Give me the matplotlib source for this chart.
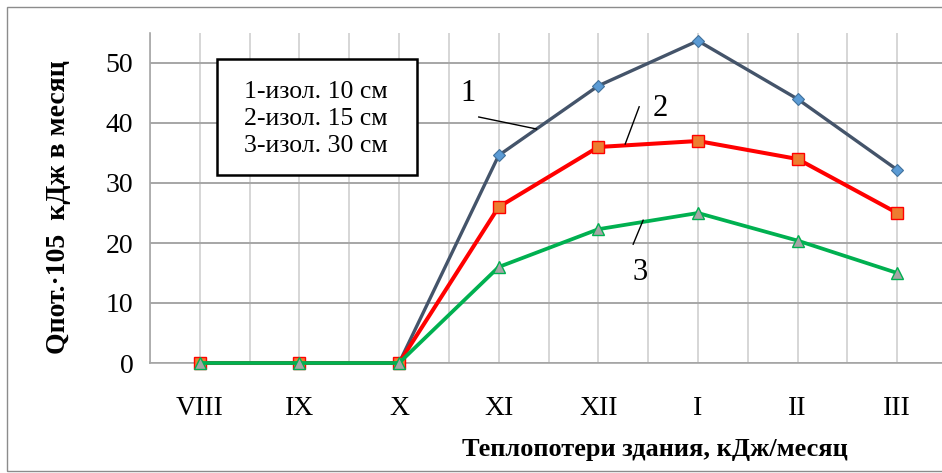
import matplotlib.pyplot as plt
from matplotlib.patches import Rectangle

plt.rcParams['font.family'] = ['Liberation Serif', 'DejaVu Serif']

months = ['VIII', 'IX', 'X', 'XI', 'XII', 'I', 'II', 'III']
q_10cm = [0, 0, 0, 34.6, 46.2, 53.7, 44.0, 32.2]
q_15cm = [0, 0, 0, 26.0, 36.0, 37.0, 34.0, 25.0]
q_30cm = [0, 0, 0, 16.0, 22.3, 25.0, 20.4, 15.0]
legend_lines = ['1-изол. 10 см', '2-изол. 15 см', '3-изол. 30 см']

W, H = 942, 473
fig = plt.figure(figsize=(W / 100, H / 100), dpi=100)

# outer chart frame (runs off the right edge like the original)
fig.patches.append(Rectangle((7 / W, 2 / H), 1.0, 464 / H, transform=fig.transFigure,
                             fill=False, edgecolor='#8C8C8C', lw=1.0))

ax = fig.add_axes([150 / W, 110 / H, 797 / W, 330 / H])
x = list(range(len(months)))

ax.plot(x, q_10cm, color='#44546A', lw=2.4, marker='D', ms=6,
        mfc='#5B9BD5', mec='#41719C', mew=0.8, zorder=3, clip_on=False)
ax.plot(x, q_15cm, color='#FF0000', lw=2.9, marker='s', ms=9,
        mfc='#ED7D31', mec='#FF0000', mew=1.0, zorder=4, clip_on=False)
ax.plot(x, q_30cm, color='#00B050', lw=2.7, marker='^', ms=8.5,
        mfc='#A5A5A5', mec='#00B050', mew=1.0, zorder=5, clip_on=False)

ax.set_xlim(-0.5, 7.5)
ax.set_ylim(0, 55)
ax.set_xticks(x)
ax.set_xticklabels(months)
ax.set_xticks([i - 0.5 for i in range(len(months) + 1)], minor=True)
ax.set_yticks(range(0, 51, 10))
ax.tick_params(axis='both', which='both', length=0, labelsize=20)
ax.tick_params(axis='x', pad=24)
ax.tick_params(axis='y', pad=12)

ax.grid(axis='x', which='both', color='#D0D0D0', lw=1.2)
ax.grid(axis='y', which='major', color='#A6A6A6', lw=1.4)
ax.set_axisbelow(True)
for side in ['top', 'right']:
    ax.spines[side].set_visible(False)
for side in ['left', 'bottom']:
    ax.spines[side].set_color('#A6A6A6')
    ax.spines[side].set_linewidth(1.2)

ax.set_xlabel('Теплопотери здания, кДж/месяц', fontsize=19, fontweight='bold')
ax.set_ylabel('Qпот.·105  кДж в месяц', fontsize=20, fontweight='bold')
ax.xaxis.set_label_coords((655 - 150) / 797, -(438 - 363) / 330)
ax.yaxis.set_label_coords(-(150 - 71) / 797, (363 - 207) / 330)

# curve labels with leader lines
ax.text(2.69, 44.9, '1', fontsize=22, ha='center', va='center')
ax.plot([2.80, 3.38], [41.0, 39.0], color='black', lw=1.0, zorder=6)
ax.text(4.62, 42.5, '2', fontsize=22, ha='center', va='center')
ax.plot([4.41, 4.27], [42.7, 36.5], color='black', lw=1.0, zorder=6)
ax.text(4.42, 15.1, '3', fontsize=22, ha='center', va='center')
ax.plot([4.45, 4.35], [23.8, 19.8], color='black', lw=1.0, zorder=6)

# text-box legend
fig.patches.append(Rectangle((217 / W, (H - 175) / H), 200 / W, 116 / H,
                             transform=fig.transFigure, facecolor='white',
                             edgecolor='black', lw=1.8, zorder=10))
fig.text(316 / W, (H - 119) / H, '\n'.join(legend_lines), fontsize=18.5,
         ha='center', va='center', linespacing=1.3, zorder=11)

fig.savefig('out.png', dpi=100)
